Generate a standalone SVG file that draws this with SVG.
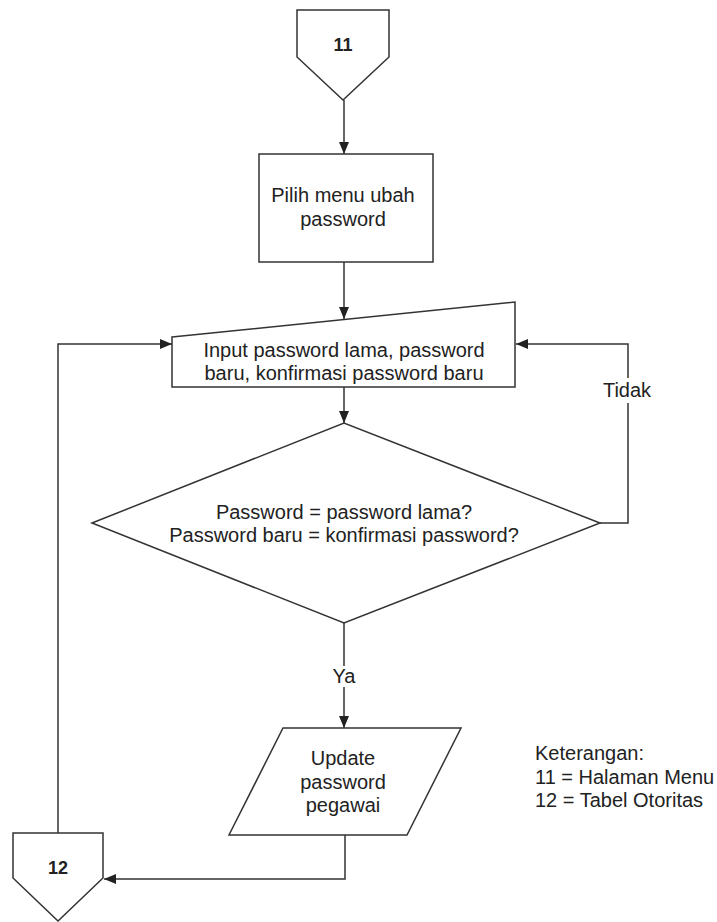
<svg xmlns="http://www.w3.org/2000/svg" width="717" height="922" viewBox="0 0 717 922">
<style>
.s{fill:#fff;stroke:#333;stroke-width:1.5}
.c{fill:none;stroke:#333;stroke-width:1.5}
.t{font-family:"Liberation Sans",Arial,sans-serif;font-size:20px;fill:#222}
.m{text-anchor:middle}
.b{font-weight:bold;font-size:18px}
</style>
<defs>
<marker id="ah" viewBox="0 0 12 10" refX="12" refY="5" markerWidth="12" markerHeight="10" markerUnits="userSpaceOnUse" orient="auto">
<path d="M0,0 L12,5 L0,10 Z" fill="#222"/>
</marker>
</defs>
<rect width="717" height="922" fill="#fff"/>
<g id="connectors">
<path class="c" d="M344,100 V154" marker-end="url(#ah)"/>
<path class="c" d="M344,262 V319" marker-end="url(#ah)"/>
<path class="c" d="M344,387 V423" marker-end="url(#ah)"/>
<path class="c" d="M344,623 V666 M344,687 V728" marker-end="url(#ah)"/>
<path class="c" d="M600,523 H628 V403 M628,378 V344 H516" marker-end="url(#ah)"/>
<path class="c" d="M58,833 V344 H172" marker-end="url(#ah)"/>
<path class="c" d="M345,835 V879 H104" marker-end="url(#ah)"/>
<text class="t m" x="627" y="397">Tidak</text>
<text class="t m" x="344" y="683">Ya</text>
</g>
<g id="n11">
<path class="s" d="M297,10 H389 V57 L343,100 L297,57 Z"/>
<text class="t m b" x="343" y="51">11</text>
</g>
<g id="pilih">
<rect class="s" x="259" y="154" width="174" height="108"/>
<text class="t m" x="343" y="202">Pilih menu ubah</text>
<text class="t m" x="343" y="226">password</text>
</g>
<g id="input">
<path class="s" d="M172,337 L515,302 V387 H172 Z"/>
<text class="t m" x="344" y="357">Input password lama, password</text>
<text class="t m" x="344" y="380">baru, konfirmasi password baru</text>
</g>
<g id="decision">
<path class="s" d="M92,523 L344,423 L600,523 L344,623 Z"/>
<text class="t m" x="344" y="519">Password = password lama?</text>
<text class="t m" x="344" y="542">Password baru = konfirmasi password?</text>
</g>
<g id="update">
<path class="s" d="M283,728 H461 L407,835 H229 Z"/>
<text class="t m" x="343" y="765">Update</text>
<text class="t m" x="343" y="789">password</text>
<text class="t m" x="343" y="812">pegawai</text>
</g>
<g id="n12">
<path class="s" d="M13,833 H103 V878 L58,921 L13,878 Z"/>
<text class="t m b" x="58" y="874">12</text>
</g>
<g id="legend">
<text class="t" x="535" y="760">Keterangan:</text>
<text class="t" x="535" y="784">11 = Halaman Menu</text>
<text class="t" x="535" y="807">12 = Tabel Otoritas</text>
</g>
</svg>
